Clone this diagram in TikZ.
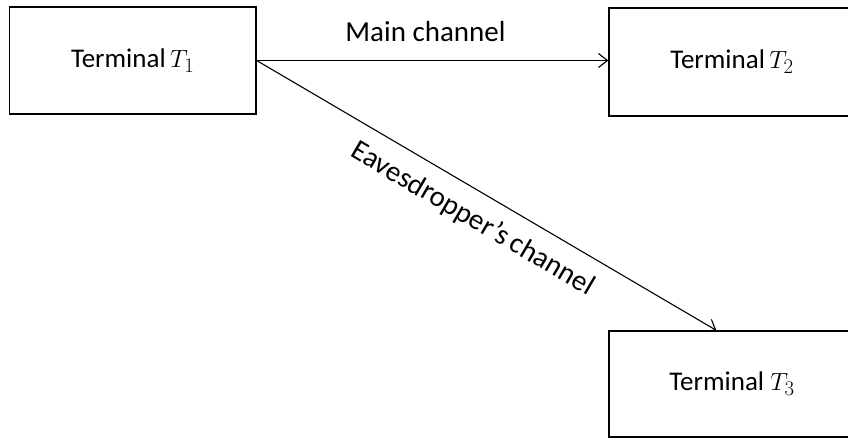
\documentclass[tikz,border=0pt]{standalone}
\usepackage{fontspec}
\setmainfont{Carlito}
\usetikzlibrary{arrows.meta}
\newcommand{\bigT}[1]{{\fontsize{31}{33}\selectfont$T_{#1}$}}
\begin{document}
\begin{tikzpicture}[x=1pt,y=-1pt,
  termbox/.style={draw, line width=1.3pt, rectangle, inner sep=0pt, font=\fontsize{27}{31}\selectfont},
  chan/.style={line width=1.1pt, -{Straight Barb[length=9pt,width=14pt,line width=1.1pt]}},
  lbl/.style={font=\fontsize{29}{33}\selectfont}]
\useasboundingbox (0,0) rectangle (848,439);
\clip (0,0) rectangle (848,439);
\node[termbox, minimum width=246.5pt, minimum height=107pt] (t1) at (132.75,60.5) {Terminal\,\bigT{1}};
\node[termbox, minimum width=246pt, minimum height=108pt] (t2) at (732,62) {Terminal\,\bigT{2}};
\node[termbox, minimum width=246pt, minimum height=106pt] (t3) at (732,384) {Terminal \bigT{3}};
\coordinate (e3) at ([xshift=108pt]t3.north west);
\draw[chan] (t1.east) -- node[lbl, above=15pt, pos=0.48] (mc) {Main channel} (t1.east -| t2.west);
\draw[chan] (t1.east) -- node[lbl, sloped, below=11pt, pos=0.5] (ec) {Eavesdropper’s\,channel} (e3);
\end{tikzpicture}
\end{document}
